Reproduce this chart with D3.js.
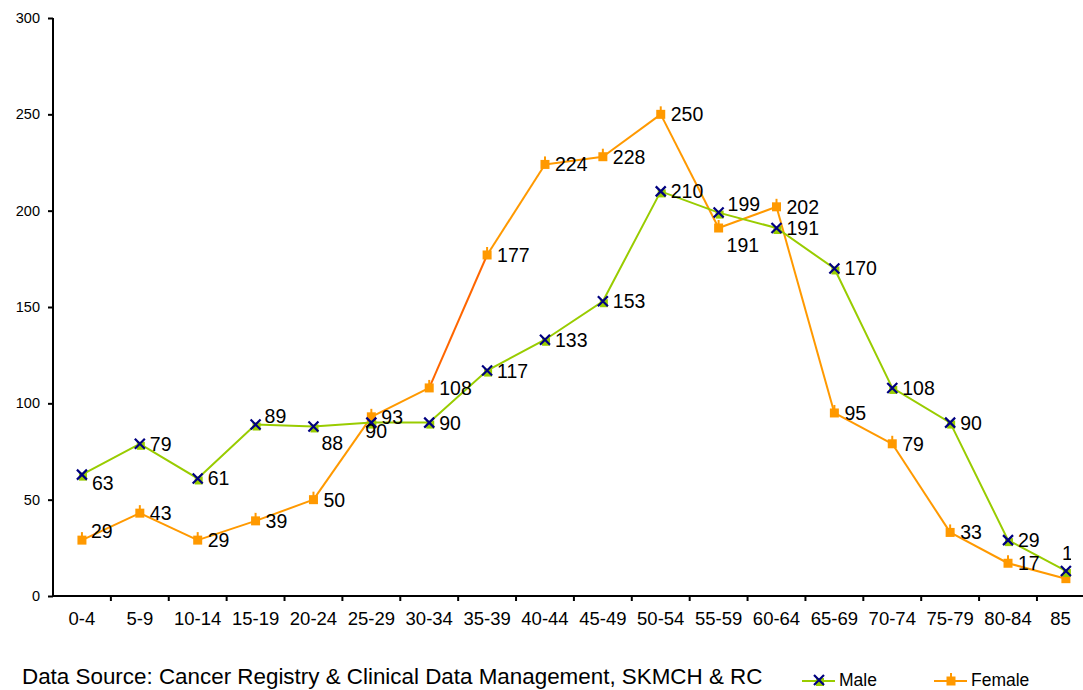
<!DOCTYPE html>
<html><head><meta charset="utf-8">
<script src="https://cdn.jsdelivr.net/npm/d3@7"></script>
<style>
html,body{margin:0;padding:0;background:#fff;}
svg{display:block;font-family:"Liberation Sans",Arial,sans-serif;}
</style></head>
<body><svg id="c" width="1083" height="690"></svg>
<script>
const categories = ["0-4","5-9","10-14","15-19","20-24","25-29","30-34","35-39","40-44","45-49","50-54","55-59","60-64","65-69","70-74","75-79","80-84","85+"];
const maleValues = [63,79,61,89,88,90,90,117,133,153,210,199,191,170,108,90,29,13];
const femaleValues = [29,43,29,39,50,93,108,177,224,228,250,191,202,95,79,33,17,9];
const yTicks = [0,50,100,150,200,250,300];
const maleLabelPos = ["below","right","right","upright","belowright","below","right","right","right","right","right","upright","right","right","right","right","right","above"];
const femaleLabelPos = ["upright","right","right","right","right","right","right","right","right","right","right","belowright","right","right","right","right","right","none"];
const footnote = "Data Source: Cancer Registry & Clinical Data Management, SKMCH & RC";

(function(){
const svg = d3.select("#c");
const mLeft = 53, mTop = 18, mBottom = 596;
const bandW = 57.88;
const x = d3.scaleBand().domain(categories).range([mLeft, mLeft + bandW*categories.length]).padding(0);
const y = d3.scaleLinear().domain([0,300]).range([mBottom, mTop]);
const cx = d => x(d) + x.bandwidth()/2;

svg.append("defs").append("clipPath").attr("id","lblclip")
  .append("rect").attr("x",0).attr("y",-700).attr("width",1071).attr("height",2000);

// Y axis
const yAxis = svg.append("g").attr("transform",`translate(${mLeft},0)`)
  .call(d3.axisLeft(y).tickValues(yTicks).tickSize(5).tickPadding(8));
yAxis.select(".domain").attr("stroke","#000").attr("stroke-width",2).attr("d",`M0,${mTop}V${mBottom}`);
yAxis.selectAll(".tick line").attr("stroke","#000").attr("stroke-width",2);
yAxis.selectAll("text").attr("font-size",14.5).attr("font-family","Liberation Sans, Arial").attr("fill","#000");

// X axis
const xAxis = svg.append("g").attr("transform",`translate(0,${mBottom})`)
  .call(d3.axisBottom(x).tickSize(0).tickPadding(16));
xAxis.attr("clip-path","url(#lblclip)");
xAxis.select(".domain").attr("stroke","#000").attr("stroke-width",2).attr("d",`M${mLeft},0H1071`);
xAxis.selectAll("text").attr("font-size",18.5).attr("font-family","Liberation Sans, Arial").attr("fill","#000");
svg.append("line").attr("x1",1070).attr("x2",1083).attr("y1",mBottom).attr("y2",mBottom).attr("stroke","#000").attr("stroke-width",2);
svg.append("g").attr("transform",`translate(0,${mBottom})`)
  .selectAll("line").data(categories.slice(1)).enter().append("line")
  .attr("x1",d=>x(d)).attr("x2",d=>x(d)).attr("y1",0).attr("y2",5)
  .attr("stroke","#000").attr("stroke-width",2);

const maleData = categories.map((c,i)=>({c, v:maleValues[i], pos:maleLabelPos[i]}));
const femaleData = categories.map((c,i)=>({c, v:femaleValues[i], pos:femaleLabelPos[i]}));

const line = d3.line().x(d=>cx(d.c)).y(d=>y(d.v));

for (let i=0;i<femaleData.length-1;i++){
  svg.append("path").datum([femaleData[i],femaleData[i+1]])
    .attr("d",line).attr("fill","none")
    .attr("stroke", femaleData[i].c==="30-34" ? "#ff6600" : "#ff9900")
    .attr("stroke-width",2);
}
svg.append("path").datum(maleData).attr("d",line).attr("fill","none")
  .attr("stroke","#99cc00").attr("stroke-width",2);

function femaleMarker(g){
  g.append("rect").attr("x",-4.5).attr("y",-4.5).attr("width",9).attr("height",9).attr("fill","#ff9900");
  g.append("line").attr("x1",0).attr("x2",0).attr("y1",-8).attr("y2",0).attr("stroke","#ff9900").attr("stroke-width",2);
}
function maleMarker(g){
  g.append("rect").attr("x",-3).attr("y",-2).attr("width",8).attr("height",8).attr("fill","#99cc00");
  g.append("path").attr("d","M-5,-5L5,5M-5,5L5,-5").attr("stroke","#000080").attr("stroke-width",2.2);
}

svg.selectAll(".fm").data(femaleData).enter().append("g")
  .attr("transform",d=>`translate(${cx(d.c)},${y(d.v)})`).each(function(){femaleMarker(d3.select(this));});
svg.selectAll(".mm").data(maleData).enter().append("g")
  .attr("transform",d=>`translate(${cx(d.c)},${y(d.v)})`).each(function(){maleMarker(d3.select(this));});

const offsets = {
  right:[10,0], upright:[9,-9], belowright:[8,17], below:[10,8], above:[-4,-18]
};
function labels(data){
  svg.append("g").attr("clip-path","url(#lblclip)").selectAll("text")
    .data(data.filter(d=>d.pos!=="none")).enter().append("text")
    .attr("x",d=>{let dx=offsets[d.pos][0]; if(d.pos==="below"&&d.c==="25-29") dx=-6; return cx(d.c)+dx;})
    .attr("y",d=>y(d.v)+offsets[d.pos][1])
    .attr("dy","0.36em")
    .attr("font-size",19.5).attr("fill","#000")
    .text(d=>d.v);
}
labels(maleData);
labels(femaleData);

svg.append("text").attr("x",22).attr("y",684).attr("font-size",22.4).attr("fill","#000").text(footnote);

const lg = svg.append("g");
lg.append("line").attr("x1",802).attr("x2",835).attr("y1",681).attr("y2",681).attr("stroke","#99cc00").attr("stroke-width",2);
maleMarker(lg.append("g").attr("transform","translate(819,680)"));
lg.append("text").attr("x",839).attr("y",686).attr("font-size",17.5).attr("fill","#000").text("Male");
lg.append("line").attr("x1",934).attr("x2",967).attr("y1",681).attr("y2",681).attr("stroke","#ff9900").attr("stroke-width",2);
femaleMarker(lg.append("g").attr("transform","translate(951,681)"));
lg.append("text").attr("x",971).attr("y",686).attr("font-size",17.5).attr("fill","#000").text("Female");
})();
</script></body></html>
